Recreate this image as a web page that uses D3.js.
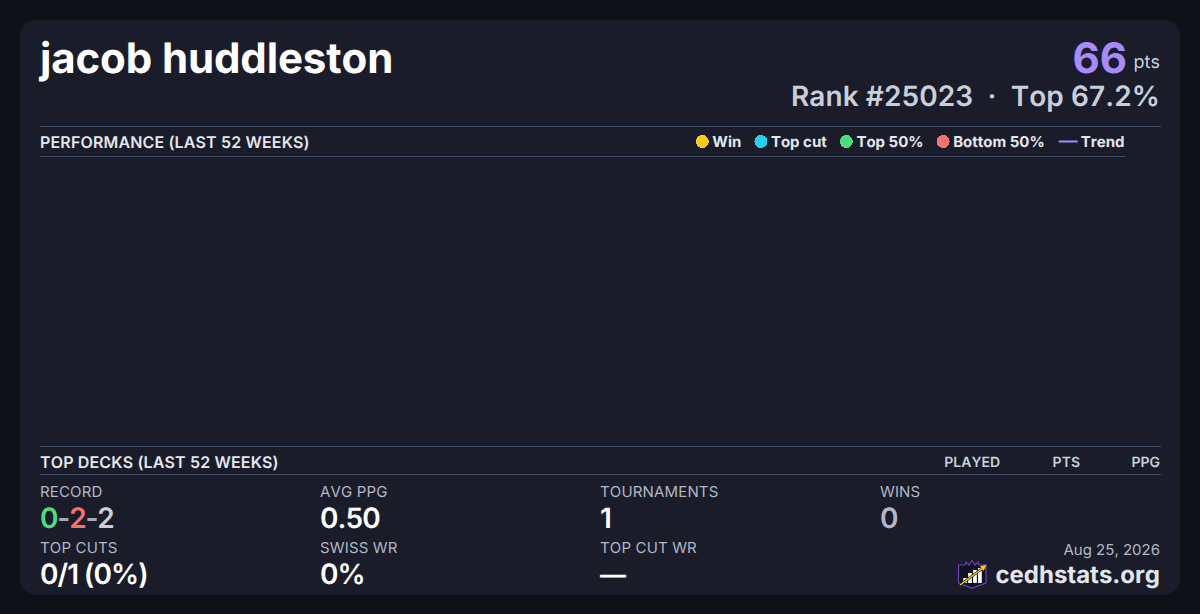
<!DOCTYPE html>
<html>
<head>
<meta charset="utf-8">
<script src="https://cdn.jsdelivr.net/npm/d3@7"></script>
<style>
html, body { margin: 0; padding: 0; background: #0f1117; }
svg { display: block; }
text { font-family: Inter, "Noto Sans", sans-serif; font-kerning: none; text-rendering: geometricPrecision; }
</style>
</head>
<body>
<div id="card"></div>
<script>
// header
var playerName = "jacob huddleston";
var points = 66;
var rank = 25023;
var topPct = 67.2;

// legend
var legendLabels = ["Win", "Top cut", "Top 50%", "Bottom 50%", "Trend"];
var legendColors = ["#facc15", "#22d3ee", "#4ade80", "#f87171", "#a78bfa"];

// top decks table columns
var deckColumns = ["PLAYED", "PTS", "PPG"];

// stats
var statLabelsTop = ["RECORD", "AVG PPG", "TOURNAMENTS", "WINS"];
var statLabelsBottom = ["TOP CUTS", "SWISS WR", "TOP CUT WR"];
var statValuesTop = ["0.50", "1", "0"];
var statValuesBottom = ["0/1 (0%)", "0%", "—"];
var recordParts = ["0", "-", "2", "-", "2"];
var recordColors = ["#4ade80", "#a3aaba", "#f87171", "#a3aaba", "#c8cfdb"];

var dateLabel = "Aug 25, 2026";
var siteLabel = "cedhstats.org";

var width = 1200;
var height = 614;

var svg = d3.select("#card")
    .append("svg")
    .attr("width", width)
    .attr("height", height);

svg.append("rect")
    .attr("width", width)
    .attr("height", height)
    .attr("fill", "#0f1117");

svg.append("rect")
    .attr("x", 20)
    .attr("y", 20)
    .attr("width", 1160)
    .attr("height", 575)
    .attr("rx", 16)
    .attr("fill", "#1a1d29");

// small helper for text
function label(x, y, str, size, weight, color, anchor) {
    return svg.append("text")
        .attr("x", x)
        .attr("y", y)
        .attr("font-size", size)
        .attr("font-weight", weight)
        .attr("fill", color)
        .attr("text-anchor", anchor || "start")
        .text(str);
}

function rule(x1, x2, y) {
    svg.append("line")
        .attr("x1", x1)
        .attr("x2", x2)
        .attr("y1", y + 0.5)
        .attr("y2", y + 0.5)
        .attr("stroke", "#3d4a63")
        .attr("stroke-width", 1);
}

// header
label(40, 73, playerName, 42, 700, "#ffffff").attr("letter-spacing", -0.12);
label(1127, 73, points, 42, 700, "#a78bfa", "end");
label(1160, 68, "pts", 18, 400, "#c8cfdb", "end");
label(1160, 106, "Rank #" + rank + "  ·  Top " + topPct + "%", 28, 600, "#c8cfdb", "end")
    .attr("letter-spacing", 0.08)
    .style("white-space", "pre");

// performance section
rule(40, 1161, 126);
rule(40, 1125, 156);
label(40, 148, "PERFORMANCE (LAST 52 WEEKS)", 16, 600, "#e2e6ee").attr("letter-spacing", 0.15);

// legend is laid out from the right edge using the measured text widths
var legendX = 1124.5;
for (var i = legendLabels.length - 1; i >= 0; i--) {
    var t = label(legendX, 147, legendLabels[i], 15, 700, "#e2e6ee", "end");
    var w = t.node().getComputedTextLength();
    if (legendLabels[i] === "Trend") {
        svg.append("line")
            .attr("x1", legendX - w - 22)
            .attr("x2", legendX - w - 3)
            .attr("y1", 141.5)
            .attr("y2", 141.5)
            .attr("stroke", legendColors[i])
            .attr("stroke-width", 2);
        legendX = legendX - w - 22 - 14;
    } else {
        svg.append("circle")
            .attr("cx", legendX - w - 10)
            .attr("cy", 141.5)
            .attr("r", 6.5)
            .attr("fill", legendColors[i])
            .attr("shape-rendering", "crispEdges");
        legendX = legendX - w - 16.5 - 13.1;
    }
}

// top decks section
rule(40, 1161, 446);
rule(40, 1161, 474);
label(40, 468, "TOP DECKS (LAST 52 WEEKS)", 16, 600, "#e2e6ee").attr("letter-spacing", 0.15);

var deckX = d3.scaleOrdinal().domain(deckColumns).range([1000, 1080, 1160]);
deckColumns.forEach(function (c) {
    label(deckX(c), 467, c, 14, 600, "#c8cfdb", "end");
});

// stats grid
var statX = d3.scaleBand().domain(d3.range(4)).range([40, 1160]);

statLabelsTop.forEach(function (d, i) {
    label(statX(i), 497, d, 15, 400, "#b1b7c4").attr("letter-spacing", 0.15);
});
statLabelsBottom.forEach(function (d, i) {
    label(statX(i), 553, d, 15, 400, "#b1b7c4").attr("letter-spacing", 0.15);
});

// record has one colour per part
var record = label(statX(0), 528, "", 28, 600, "#c8cfdb")
    .attr("letter-spacing", -1.2);
record.selectAll("tspan")
    .data(recordParts)
    .enter()
    .append("tspan")
    .attr("fill", function (d, i) { return recordColors[i]; })
    .text(function (d) { return d; });

statValuesTop.forEach(function (d, i) {
    label(statX(i + 1), 528, d, 28, 600, i === 2 ? "#b1b7c4" : "#ffffff")
        .attr("letter-spacing", -0.9);
});
statValuesBottom.forEach(function (d, i) {
    label(statX(i), 584, d, d === "—" ? 26 : 28, 600, "#ffffff")
        .attr("letter-spacing", -0.9)
        .attr("word-spacing", -0.5);
});

// footer
label(1160, 555, dateLabel, 15, 400, "#b1b7c4", "end");
label(1160, 583, siteLabel, 24, 700, "#e2e6ee", "end");

// logo
var logo = svg.append("g").attr("transform", "translate(958,560)");
logo.append("path")
    .attr("d", "M0.5,5 L7,5 L8,2 L11,5 L14,0.5 L17,5 L20,2 L21,5 L28,5 L28,23 L14,28 L0.5,23 Z")
    .attr("fill", "#12141d")
    .attr("stroke", "#6d3fc4")
    .attr("stroke-width", 1.2);
var logoBars = [5, 10, 13, 15];
var logoX = d3.scaleBand().domain(d3.range(4)).range([4, 25]).padding(0.25);
var logoY = d3.scaleLinear().domain([0, 15]).range([23, 8]);
logo.selectAll("rect")
    .data(logoBars)
    .enter()
    .append("rect")
    .attr("x", function (d, i) { return logoX(i); })
    .attr("y", function (d) { return logoY(d); })
    .attr("width", logoX.bandwidth())
    .attr("height", function (d) { return logoY(0) - logoY(d); })
    .attr("fill", "#ffffff");
logo.append("path")
    .attr("d", "M2,25 L25,8")
    .attr("stroke", "#12141d")
    .attr("stroke-width", 2.6);
logo.append("path")
    .attr("d", "M2,25 L25,8")
    .attr("stroke", "#facc15")
    .attr("stroke-width", 1.4);
logo.append("path")
    .attr("d", "M28.5,5 L22,6 L25.5,11 Z")
    .attr("fill", "#facc15");
</script>
</body>
</html>
